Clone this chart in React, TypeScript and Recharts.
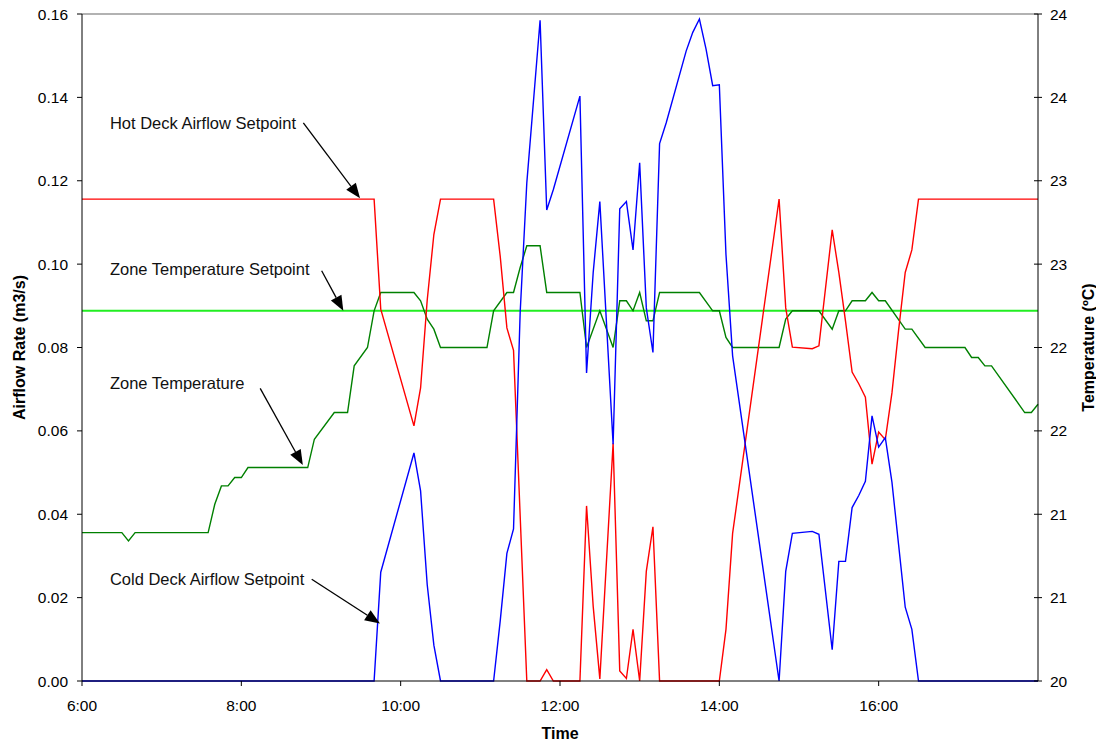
import { Line, LineChart, ReferenceDot, ReferenceLine, XAxis, YAxis } from "recharts";

const FONT = '"Liberation Sans", Arial, sans-serif';
const HOT = "#ff0000";
const COLD = "#0000ff";
const ZONE = "#008000";
const SETPT = "#22ee22";

// x axis: minutes from midnight, labelled every 2 hours
const TIME_TICKS = [360, 480, 600, 720, 840, 960];
const FLOW_TICKS = [0, 0.02, 0.04, 0.06, 0.08, 0.1, 0.12, 0.14, 0.16];
const TEMP_TICKS = [20, 20.5, 21, 21.5, 22, 22.5, 23, 23.5, 24];

const HOT_TIMES = [
  "6:00", "9:40", "9:45", "10:10", "10:15", "10:20", "10:25", "10:30", "11:10", "11:15",
  "11:20", "11:25", "11:35", "11:45", "11:50", "11:55", "12:15", "12:20", "12:25", "12:30",
  "12:40", "12:45", "12:50", "12:55", "13:00", "13:05", "13:10", "13:15", "14:00", "14:05",
  "14:10", "14:45", "14:50", "14:55", "15:10", "15:15", "15:25", "15:30", "15:35", "15:40",
  "15:45", "15:50", "15:55", "16:00", "16:05", "16:10", "16:15", "16:20", "16:25", "16:30",
  "18:00",
];
const HOT_FLOW = [
  0.1156, 0.1156, 0.0892, 0.0612, 0.0703, 0.0914, 0.1071, 0.1156, 0.1156, 0.1018,
  0.0847, 0.0793, 0, 0, 0.0027, 0, 0, 0.042, 0.0179, 0.0005,
  0.057, 0.0024, 0.0006, 0.0124, 0, 0.0263, 0.037, 0, 0, 0.0124,
  0.0354, 0.1156, 0.0895, 0.0801, 0.0797, 0.0804, 0.1082, 0.098, 0.0864, 0.0741,
  0.0713, 0.0681, 0.052, 0.0597, 0.0579, 0.0691, 0.0841, 0.098, 0.1034, 0.1156,
  0.1156,
];

const COLD_TIMES = [
  "6:00", "9:40", "9:45", "10:10", "10:15", "10:20", "10:25", "10:30", "11:10", "11:15",
  "11:20", "11:25", "11:30", "11:35", "11:45", "11:50", "11:55", "12:15", "12:20", "12:25",
  "12:30", "12:40", "12:45", "12:50", "12:55", "13:00", "13:05", "13:10", "13:15", "13:20",
  "13:35", "13:40", "13:45", "13:50", "13:55", "14:00", "14:05", "14:10", "14:45", "14:50",
  "14:55", "15:10", "15:15", "15:25", "15:30", "15:35", "15:40", "15:45", "15:50", "15:55",
  "16:00", "16:05", "16:10", "16:15", "16:20", "16:25", "16:30", "18:00",
];
const COLD_FLOW = [
  0, 0, 0.0261, 0.0547, 0.0456, 0.0231, 0.0086, 0, 0, 0.0145,
  0.0306, 0.0365, 0.0884, 0.1195, 0.1585, 0.113, 0.1179, 0.1403, 0.0739, 0.098,
  0.115, 0.0568, 0.1133, 0.115, 0.1034, 0.1243, 0.0895, 0.0788, 0.1289, 0.1339,
  0.1511, 0.1556, 0.1588, 0.1516, 0.1428, 0.143, 0.1023, 0.078, 0, 0.0263,
  0.0354, 0.0359, 0.0352, 0.0075, 0.0287, 0.0287, 0.0416, 0.0445, 0.0479, 0.0636,
  0.0561, 0.0584, 0.0477, 0.0327, 0.0177, 0.0124, 0, 0,
];

const ZONE_TIMES = [
  "6:00", "6:30", "6:35", "6:40", "7:35", "7:40", "7:45", "7:50", "7:55", "8:00",
  "8:05", "8:50", "8:55", "9:10", "9:20", "9:25", "9:35", "9:40", "9:45", "10:10",
  "10:15", "10:20", "10:25", "10:30", "11:05", "11:10", "11:20", "11:25", "11:30", "11:35",
  "11:45", "11:50", "12:15", "12:20", "12:30", "12:40", "12:45", "12:50", "12:55", "13:00",
  "13:05", "13:10", "13:15", "13:45", "13:55", "14:00", "14:05", "14:10", "14:45", "14:50",
  "14:55", "15:15", "15:25", "15:30", "15:35", "15:40", "15:50", "15:55", "16:00", "16:05",
  "16:20", "16:25", "16:35", "17:05", "17:10", "17:15", "17:20", "17:25", "17:50", "17:55",
  "18:00",
];
const ZONE_TEMP = [
  20.89, 20.89, 20.84, 20.89, 20.89, 21.06, 21.17, 21.17, 21.22, 21.22,
  21.28, 21.28, 21.45, 21.61, 21.61, 21.89, 22.0, 22.22, 22.33, 22.33,
  22.28, 22.17, 22.11, 22.0, 22.0, 22.22, 22.33, 22.33, 22.48, 22.61,
  22.61, 22.33, 22.33, 22.0, 22.22, 22.0, 22.28, 22.28, 22.22, 22.33,
  22.16, 22.16, 22.33, 22.33, 22.22, 22.22, 22.06, 22.0, 22.0, 22.17,
  22.22, 22.22, 22.11, 22.22, 22.22, 22.28, 22.28, 22.33, 22.28, 22.28,
  22.11, 22.11, 22.0, 22.0, 21.94, 21.94, 21.89, 21.89, 21.61, 21.61,
  21.66,
];

const SETPOINT_TIMES = ["6:00", "18:00"];
const SETPOINT_TEMP = [22.22, 22.22];

// callouts, placed in chart units (minutes, m3/s)
const NOTE_TEXT = [
  "Hot Deck Airflow Setpoint",
  "Zone Temperature Setpoint",
  "Zone Temperature",
  "Cold Deck Airflow Setpoint",
];
const NOTE_AT = [[381, 0.1338], [381, 0.0988], [381, 0.0715], [381, 0.0245]];
const NOTE_FROM = [[526.7, 0.1339], [540.5, 0.0984], [494.2, 0.0702], [533, 0.0244]];
const NOTE_TO = [[569.4, 0.1158], [556.8, 0.0888], [526.3, 0.0518], [584.4, 0.0138]];

function toMin(s: string) {
  const [h, m] = s.split(":").map(Number);
  return h * 60 + m;
}

const series = (times: string[], values: number[]) =>
  times.map((t, i) => ({ t: toMin(t), v: values[i] }));

const hotData = series(HOT_TIMES, HOT_FLOW);
const coldData = series(COLD_TIMES, COLD_FLOW);
const zoneData = series(ZONE_TIMES, ZONE_TEMP);
const setpointData = series(SETPOINT_TIMES, SETPOINT_TEMP);

function Arrow(p: any) {
  const { x1, y1, x2, y2 } = p;
  const len = Math.hypot(x2 - x1, y2 - y1) || 1;
  const ux = (x2 - x1) / len;
  const uy = (y2 - y1) / len;
  const bx = x2 - ux * 15;
  const by = y2 - uy * 15;
  const pts = `${x2},${y2} ${bx - uy * 6},${by + ux * 6} ${bx + uy * 6},${by - ux * 6}`;
  return (
    <g>
      <line x1={x1} y1={y1} x2={bx} y2={by} stroke="#000" strokeWidth={1.3} />
      <polygon points={pts} fill="#000" />
    </g>
  );
}

function NoteText(text: string) {
  return (p: any) => (
    <text x={p.cx} y={p.cy} dy="0.36em" fontSize={16.5} fontFamily={FONT} fill="#111">
      {text}
    </text>
  );
}

// right axis has cross ticks straddling the axis line
function TempTick(p: any) {
  const { x, y, payload } = p;
  return (
    <g>
      <line x1={x - 16} x2={x - 8} y1={y} y2={y} stroke="#000" />
      <text x={x} y={y} dy="0.36em" fontSize={15.5} fontFamily={FONT} fill="#000">
        {Math.round(payload.value)}
      </text>
    </g>
  );
}

const tickStyle = { fill: "#000", fontSize: 15.5, fontFamily: FONT };
const titleStyle = { fill: "#000", fontSize: 16, fontWeight: 700, fontFamily: FONT };

export default function App() {
  return (
    <div style={{ width: 1096, height: 744, background: "#fff" }}>
      <style>{"body{margin:0}"}</style>
      <LineChart width={1096} height={744} margin={{ top: 14, right: 0, bottom: 0, left: 0 }}>
        <XAxis
          type="number"
          dataKey="t"
          domain={[360, 1080]}
          ticks={TIME_TICKS}
          tickFormatter={(m) => `${m / 60}:00`}
          height={63}
          tickSize={5}
          tickMargin={14}
          stroke="#000"
          tick={tickStyle}
          label={{ value: "Time", position: "insideBottom", offset: 5, ...titleStyle }}
        />
        <YAxis
          yAxisId="flow"
          domain={[0, 0.16]}
          ticks={FLOW_TICKS}
          tickFormatter={(v) => v.toFixed(2)}
          width={82}
          tickSize={5}
          tickMargin={9}
          stroke="#000"
          tick={tickStyle}
          label={{ value: "Airflow Rate (m3/s)", angle: -90, position: "center", dx: -22, ...titleStyle }}
        />
        <YAxis
          yAxisId="temp"
          orientation="right"
          domain={[20, 24]}
          ticks={TEMP_TICKS}
          width={58}
          tickSize={4}
          tickMargin={8}
          tickLine={false}
          stroke="#000"
          tick={TempTick}
          label={{ value: "Temperature (ºC)", angle: -90, position: "center", dx: 21, ...titleStyle }}
        />
        <ReferenceLine yAxisId="flow" y={0.16} stroke="#999" strokeWidth={1.5} />
        <Line yAxisId="temp" data={setpointData} dataKey="v" stroke={SETPT} strokeWidth={2} dot={false} activeDot={false} isAnimationActive={false} />
        <Line yAxisId="temp" data={zoneData} dataKey="v" stroke={ZONE} strokeWidth={1.4} dot={false} activeDot={false} isAnimationActive={false} />
        <Line yAxisId="flow" data={hotData} dataKey="v" stroke={HOT} strokeWidth={1.4} dot={false} activeDot={false} isAnimationActive={false} />
        <Line yAxisId="flow" data={coldData} dataKey="v" stroke={COLD} strokeWidth={1.4} dot={false} activeDot={false} isAnimationActive={false} />
        {NOTE_TEXT.map((text, i) => (
          <ReferenceLine
            key={"a" + i}
            yAxisId="flow"
            ifOverflow="visible"
            segment={[
              { x: NOTE_FROM[i][0], y: NOTE_FROM[i][1] },
              { x: NOTE_TO[i][0], y: NOTE_TO[i][1] },
            ]}
            shape={Arrow}
          />
        ))}
        {NOTE_TEXT.map((text, i) => (
          <ReferenceDot
            key={"t" + i}
            yAxisId="flow"
            ifOverflow="visible"
            x={NOTE_AT[i][0]}
            y={NOTE_AT[i][1]}
            shape={NoteText(text)}
          />
        ))}
      </LineChart>
    </div>
  );
}
